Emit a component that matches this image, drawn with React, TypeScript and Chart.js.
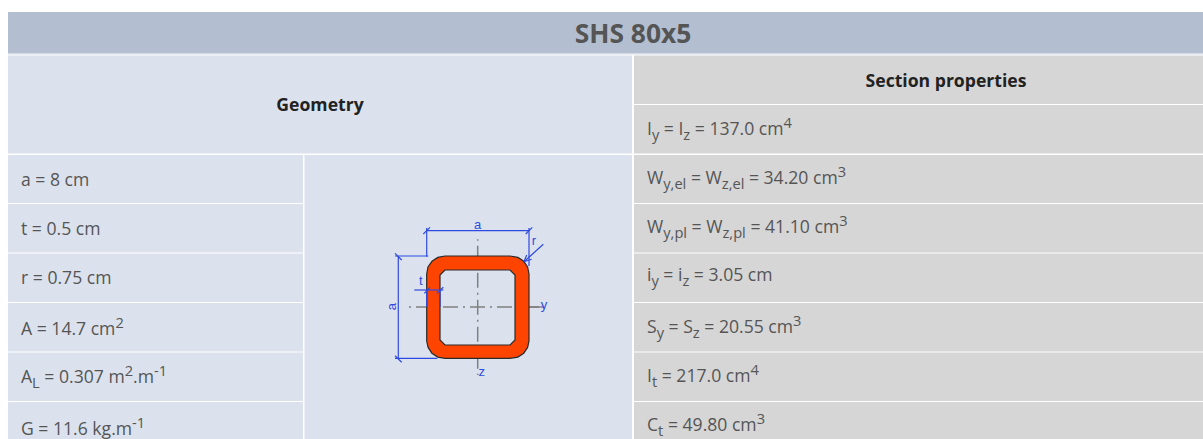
import React, { useEffect, useRef } from "react";
import { Chart, registerables } from "chart.js";

Chart.register(...registerables);

const WIDTH = 1203;
const HEIGHT = 439;
const FONT = '"Open Sans", sans-serif';

// ---- Table content ----
const title = "SHS 80x5";
const geometryHeading = "Geometry";
const propertiesHeading = "Section properties";
// Markup: _{...} subscript, ^{...} superscript
const geometryRows = [
  "a = 8 cm",
  "t = 0.5 cm",
  "r = 0.75 cm",
  "A = 14.7 cm^{2}",
  "A_{L} = 0.307 m^{2}.m^{-1}",
  "G = 11.6 kg.m^{-1}",
];
const propertyRows = [
  "I_{y} = I_{z} = 137.0 cm^{4}",
  "W_{y,el} = W_{z,el} = 34.20 cm^{3}",
  "W_{y,pl} = W_{z,pl} = 41.10 cm^{3}",
  "i_{y} = i_{z} = 3.05 cm",
  "S_{y} = S_{z} = 20.55 cm^{3}",
  "I_{t} = 217.0 cm^{4}",
  "C_{t} = 49.80 cm^{3}",
];
const geometryBaselines = [186, 235, 284, 335, 383, 435];
const propertyBaselines = [135, 184, 233, 281, 333, 382, 431];

// ---- Table layout ----
const HEADER_FILL = "#b3bfd0";
const HEADER_RULE = "#d3dae6";
const GEOMETRY_FILL = "#dbe2ee";
const PROPERTY_FILL = "#d6d6d6";
type Cell = [number, number, number, number, string];
const cells: Cell[] = [
  [8, 12, WIDTH, 53.5, HEADER_FILL],
  [8, 53.5, WIDTH, 54.5, HEADER_RULE],
  [8, 55.5, 632, 153.5, GEOMETRY_FILL],
  [8, 155, 303, 203, GEOMETRY_FILL],
  [8, 204, 303, 252.5, GEOMETRY_FILL],
  [8, 253.5, 303, 302, GEOMETRY_FILL],
  [8, 303, 303, 351.5, GEOMETRY_FILL],
  [8, 352.5, 303, 401, GEOMETRY_FILL],
  [8, 402, 303, HEIGHT, GEOMETRY_FILL],
  [304.5, 155, 632, HEIGHT, GEOMETRY_FILL],
  [634, 55.5, WIDTH, 104, PROPERTY_FILL],
  [634, 105, WIDTH, 153.5, PROPERTY_FILL],
  [634, 155, WIDTH, 203, PROPERTY_FILL],
  [634, 204, WIDTH, 252.5, PROPERTY_FILL],
  [634, 253.5, WIDTH, 302, PROPERTY_FILL],
  [634, 303, WIDTH, 351.5, PROPERTY_FILL],
  [634, 352.5, WIDTH, 401, PROPERTY_FILL],
  [634, 402, WIDTH, HEIGHT, PROPERTY_FILL],
];

// ---- Cross-section drawing ----
type P = [number, number];
const outerProfile: P[] = [
  [445, 256], [510, 256], [517.9, 257.4], [523.7, 261.3], [527.6, 267], [529, 274],
  [529, 341], [527.6, 347.4], [523.7, 353.2], [517.9, 357.1], [510, 358.3], [445, 358.3],
  [437.8, 357.1], [431.9, 353.2], [428.1, 347.4], [426.7, 341], [426.7, 274], [428, 267], [432, 261.3], [437.8, 257.4],
];
const innerProfile: P[] = [
  [445, 270], [510, 270], [515, 275], [515, 340], [510, 345], [445, 345], [440, 340], [440, 275],
];
type Axis = { pts: P[]; offset: number };
const axesBehind: Axis[] = [
  { pts: [[409, 307], [541, 307]], offset: 20 },
  { pts: [[477.7, 239.3], [477.7, 375]], offset: 20.6 },
];
const axesInHole: Axis[] = [
  { pts: [[440, 307], [515, 307]], offset: 24 },
  { pts: [[477.7, 270], [477.7, 345]], offset: 24.3 },
];
const tailLines: P[][] = [[[529, 307], [544, 307]]];
const dimensionLines: P[][] = [
  [[426.7, 230.7], [529, 230.7]],
  [[426.7, 228], [426.7, 256.7]],
  [[529, 228], [529, 266]],
  [[423.3, 234], [430, 227.3]],
  [[525.7, 234], [532.3, 227.3]],
  [[398.3, 256], [398.3, 358.3]],
  [[395, 256], [428.3, 256]],
  [[395, 358.3], [437.3, 358.3]],
  [[395, 253.3], [401.7, 260]],
  [[395, 355.7], [401.7, 362.3]],
  [[414.3, 290], [443.3, 290]],
  [[424.3, 293.3], [430, 287.3]],
  [[436.7, 293.3], [443.3, 287.3]],
  [[426.7, 290], [426.7, 307]],
  [[440, 290], [440, 307]],
  [[543.3, 244.3], [524, 261.7]],
  [[524, 261.7], [526.7, 255]],
  [[524, 261.7], [531.7, 259.3]],
];
const DIM_BLUE = "#2f4ae0";
const drawingLabels: { text: string; x: number; y: number; rot?: number }[] = [
  { text: "a", x: 477.7, y: 225 },
  { text: "a", x: 392.3, y: 306.7, rot: -Math.PI / 2 },
  { text: "t", x: 420.7, y: 281.7 },
  { text: "r", x: 534, y: 241.7 },
  { text: "y", x: 544, y: 305 },
  { text: "z", x: 481.7, y: 372.3 },
];

const toXY = (pts: P[]) => pts.map(([x, y]) => ({ x, y }));
const closed = (pts: P[]) => toXY([...pts, pts[0]]);

function buildDatasets() {
  const list: any[] = [];
  const base = { showLine: true, pointRadius: 0, pointHoverRadius: 0, tension: 0 };
  for (const [x0, y0, x1, y1, color] of cells) {
    list.push({
      ...base,
      data: closed([[x0, y0], [x1, y0], [x1, y1], [x0, y1]]),
      borderWidth: 0,
      borderColor: "transparent",
      backgroundColor: color,
      fill: "shape",
    });
  }
  const axis = (a: Axis) => ({
    ...base,
    data: toXY(a.pts),
    borderWidth: 1.5,
    borderColor: "#808080",
    borderDash: [15, 5, 2, 5],
    borderDashOffset: a.offset,
    fill: false,
  });
  for (const a of axesBehind) list.push(axis(a));
  for (const l of tailLines) list.push({ ...base, data: toXY(l), borderWidth: 1.5, borderColor: "#808080", fill: false });
  list.push({ ...base, data: closed(outerProfile), borderWidth: 1.2, borderColor: "#2a2a2a", backgroundColor: "#ff4400", fill: "shape" });
  list.push({ ...base, data: closed(innerProfile), borderWidth: 1.2, borderColor: "#2a2a2a", backgroundColor: GEOMETRY_FILL, fill: "shape" });
  for (const a of axesInHole) list.push(axis(a));
  for (const l of dimensionLines) list.push({ ...base, data: toXY(l), borderWidth: 1.2, borderColor: DIM_BLUE, fill: false });
  // Chart.js paints the first dataset last, so reverse for painter's order
  return list.reverse();
}

type Run = { text: string; kind: "n" | "sub" | "sup" };
function parseRuns(s: string): Run[] {
  const runs: Run[] = [];
  const re = /([_^])\{([^}]*)\}/g;
  let last = 0;
  let m: RegExpExecArray | null;
  while ((m = re.exec(s))) {
    if (m.index > last) runs.push({ text: s.slice(last, m.index), kind: "n" });
    runs.push({ text: m[2], kind: m[1] === "_" ? "sub" : "sup" });
    last = m.index + m[0].length;
  }
  if (last < s.length) runs.push({ text: s.slice(last), kind: "n" });
  return runs;
}

const textPlugin = {
  id: "tableText",
  beforeDraw(chart: any) {
    const c = chart.ctx;
    c.save();
    c.fillStyle = "#ffffff";
    c.fillRect(0, 0, WIDTH, HEIGHT);
    c.restore();
  },
  afterDatasetsDraw(chart: any) {
    const c: CanvasRenderingContext2D = chart.ctx;
    const sx = chart.scales.x;
    const sy = chart.scales.y;
    const px = (v: number) => sx.getPixelForValue(v);
    const py = (v: number) => sy.getPixelForValue(v);
    c.save();
    c.textBaseline = "alphabetic";

    const rich = (s: string, x: number, y: number) => {
      let cx = px(x);
      const by = py(y);
      c.textAlign = "left";
      c.fillStyle = "#555555";
      for (const r of parseRuns(s)) {
        const small = r.kind !== "n";
        c.font = `${small ? 14.67 : 17.6}px ${FONT}`;
        const dy = r.kind === "sub" ? 5 : r.kind === "sup" ? -7 : 0;
        c.fillText(r.text, cx, by + dy);
        cx += c.measureText(r.text).width;
      }
    };

    c.textAlign = "center";
    c.font = `bold 26.4px ${FONT}`;
    c.fillStyle = "#555555";
    c.fillText(title, px(633), py(43));
    c.font = `bold 17.6px ${FONT}`;
    c.fillStyle = "#222222";
    c.fillText(geometryHeading, px(320), py(111));
    c.fillText(propertiesHeading, px(946), py(87));

    geometryRows.forEach((s, i) => rich(s, 21, geometryBaselines[i]));
    propertyRows.forEach((s, i) => rich(s, 647, propertyBaselines[i]));

    c.font = `13px "Liberation Sans", sans-serif`;
    c.textAlign = "center";
    c.textBaseline = "middle";
    for (const l of drawingLabels) {
      c.save();
      c.translate(px(l.x), py(l.y));
      if (l.rot) c.rotate(l.rot);
      c.fillStyle = DIM_BLUE;
      c.fillText(l.text, 0, 0);
      c.restore();
    }
    c.restore();
  },
};

export default function App() {
  const ref = useRef<HTMLCanvasElement | null>(null);
  useEffect(() => {
    const canvas = ref.current!;
    canvas.getContext("2d", { alpha: false });
    const chart = new Chart(canvas, {
      type: "scatter",
      data: { datasets: buildDatasets() },
      options: {
        animation: false,
        responsive: false,
        devicePixelRatio: 1,
        layout: { padding: 0 },
        events: [],
        plugins: { legend: { display: false }, tooltip: { enabled: false }, title: { display: false } },
        scales: {
          x: { type: "linear", min: 0, max: WIDTH, display: false },
          y: { type: "linear", min: 0, max: HEIGHT, reverse: true, display: false },
        },
      },
      plugins: [textPlugin],
    } as any);
    return () => chart.destroy();
  }, []);
  return (
    <canvas
      ref={ref}
      width={WIDTH}
      height={HEIGHT}
      style={{ position: "fixed", left: 0, top: 0, width: WIDTH, height: HEIGHT, display: "block" }}
    />
  );
}
